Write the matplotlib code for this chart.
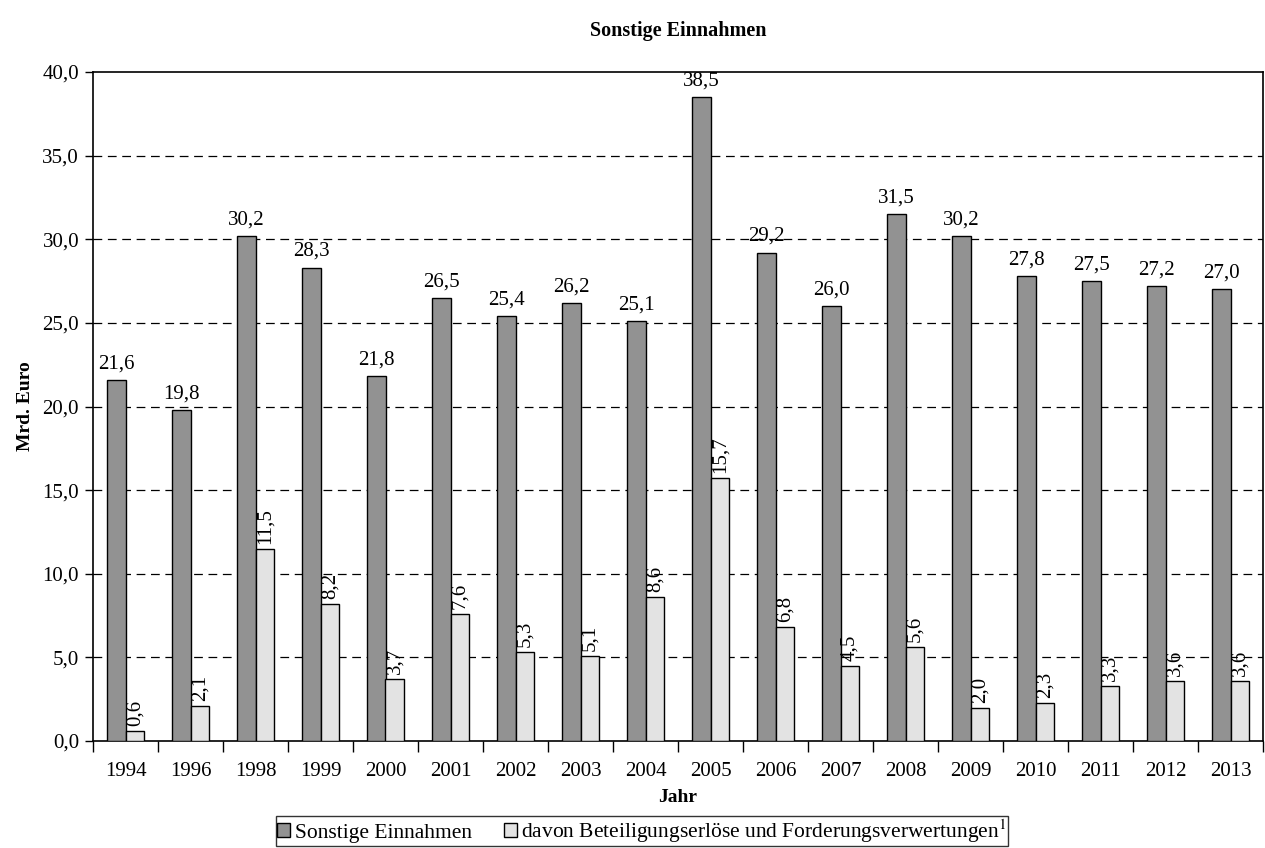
import matplotlib
matplotlib.use("Agg")
import matplotlib.pyplot as plt
import numpy as np
from matplotlib.ticker import FixedLocator, MultipleLocator, FuncFormatter

plt.rcParams['font.family'] = ['Liberation Serif', 'DejaVu Serif']
plt.rcParams['mathtext.fontset'] = 'stix'

years = ["1994", "1996", "1998", "1999", "2000", "2001", "2002", "2003", "2004",
         "2005", "2006", "2007", "2008", "2009", "2010", "2011", "2012", "2013"]
sonstige = [21.6, 19.8, 30.2, 28.3, 21.8, 26.5, 25.4, 26.2, 25.1,
            38.5, 29.2, 26.0, 31.5, 30.2, 27.8, 27.5, 27.2, 27.0]
beteiligung = [0.6, 2.1, 11.5, 8.2, 3.7, 7.6, 5.3, 5.1, 8.6,
               15.7, 6.8, 4.5, 5.6, 2.0, 2.3, 3.3, 3.6, 3.6]

fig = plt.figure(figsize=(12.65, 8.48), dpi=100)
ax = fig.add_axes([93/1265, (848-741)/848, (1263-93)/1265, (741-72)/848])

x = np.arange(len(years))
w = 0.29
dark = "#929292"
light = "#e3e3e3"
fs = 15
b1 = ax.bar(x - w/2, sonstige, w, color=dark, edgecolor="black", linewidth=1.0,
            label="Sonstige Einnahmen", zorder=3)
b2 = ax.bar(x + w/2, beteiligung, w, color=light, edgecolor="black", linewidth=1.0,
            label="davon Beteiligungserlöse und Forderungsverwertungen$^{1}$", zorder=3)

fmt = lambda v: f"{v:.1f}".replace(".", ",")
for xi, v in zip(x, sonstige):
    ax.text(xi - w/2, v + 0.4, fmt(v), ha="center", va="bottom", fontsize=fs)
for xi, v in zip(x, beteiligung):
    ax.text(xi + w/2, v + 0.3, fmt(v), ha="center", va="bottom", rotation=90, fontsize=fs)

ax.set_xlim(-0.5, len(years) - 0.5)
ax.set_ylim(0, 40)
ax.yaxis.set_major_locator(MultipleLocator(5))
ax.yaxis.set_major_formatter(FuncFormatter(lambda v, p: fmt(v)))
ax.set_xticks(x)
ax.set_xticklabels(years)
ax.xaxis.set_minor_locator(FixedLocator(np.arange(-0.5, len(years), 1.0)))
ax.tick_params(axis="x", which="major", length=0, pad=15, labelsize=fs)
ax.tick_params(axis="x", which="minor", length=8, width=1.0, direction="out")
ax.tick_params(axis="y", which="major", length=6, width=1.0, direction="out", labelsize=fs, pad=4)

for yv in range(5, 40, 5):
    ax.axhline(yv, color="black", linestyle=(0, (7, 4.5)), linewidth=0.9, zorder=1)

for s in ax.spines.values():
    s.set_linewidth(1.2)

ax.set_title("Sonstige Einnahmen", fontsize=14.5, fontweight="bold", pad=26)
ax.set_ylabel("Mrd. Euro", fontsize=14, fontweight="bold", labelpad=6)
ax.set_xlabel("Jahr", fontsize=14, fontweight="bold", labelpad=6)

leg = fig.legend(handles=[b1, b2], loc="center", bbox_to_anchor=(642/1265, 1 - 831/848),
                 ncol=2, frameon=True, fancybox=False, edgecolor="black", fontsize=15.5,
                 handlelength=0.6, handleheight=0.6, handletextpad=0.2, columnspacing=1.5,
                 borderpad=0.05, borderaxespad=0)
leg.get_frame().set_linewidth(1.0)

fig.savefig("out.png", dpi=100)
